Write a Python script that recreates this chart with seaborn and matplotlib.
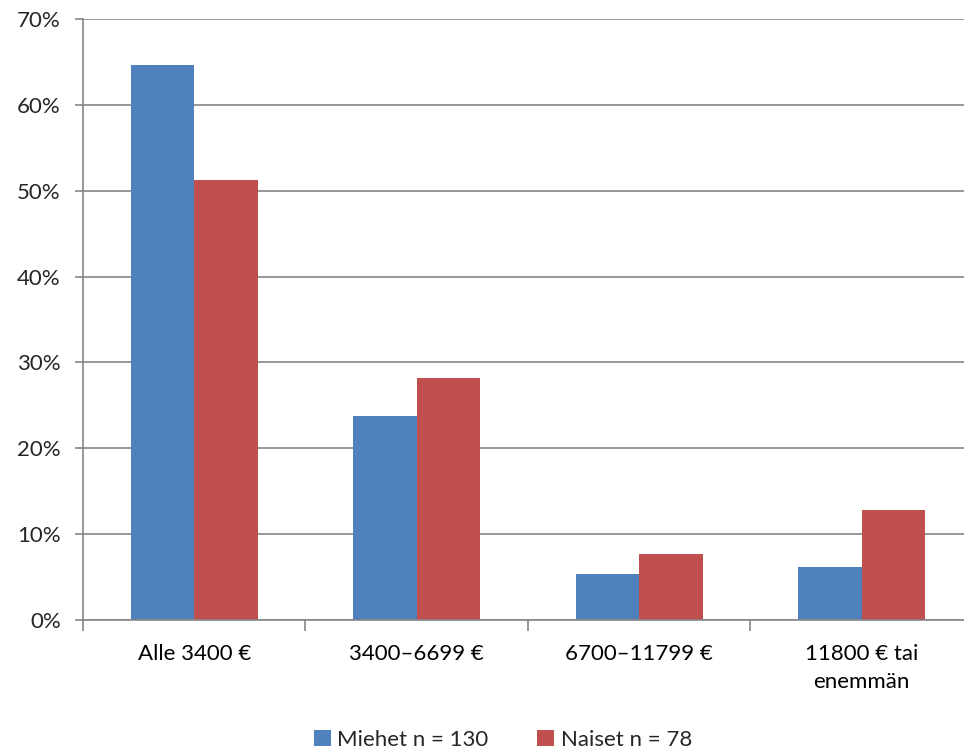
import pandas as pd
import seaborn as sns
import matplotlib.pyplot as plt
from matplotlib.patches import Patch
from matplotlib.ticker import FixedLocator

# data (percent)
categories = ['Alle 3400 €', '3400–6699 €', '6700–11799 €', '11800 € tai\nenemmän']
miehet = [64.6, 23.8, 5.4, 6.2]
naiset = [51.3, 28.2, 7.7, 12.8]
series_names = ['Miehet n = 130', 'Naiset n = 78']
colors = ['#4F81BD', '#C0504D']
yticks = [0, 10, 20, 30, 40, 50, 60, 70]

df = pd.DataFrame({
    'luokka': categories * 2,
    'osuus': miehet + naiset,
    'ryhma': [series_names[0]] * 4 + [series_names[1]] * 4,
})

sns.set_style('white')
plt.rcParams['font.family'] = ['Lato', 'DejaVu Sans']

grid_col = '#868686'
fs = 16

fig = plt.figure(figsize=(9.64, 7.53), dpi=100)
ax = fig.add_axes([83 / 964, 1 - 620 / 753, 1 - 83 / 964, (620 - 19) / 753])

sns.barplot(data=df, x='luokka', y='osuus', hue='ryhma', palette=colors,
            width=0.57, gap=0, saturation=1, edgecolor='none', legend=False, ax=ax)

ax.set_ylim(0, 70)
ax.set_xlim(-0.5, 3.46)
ax.set_yticks(yticks)
ax.set_yticklabels([f'{v}%' for v in yticks], fontsize=fs)
ax.set_xticks(range(len(categories)))
ax.set_xticklabels(categories, fontsize=fs, linespacing=1.55)
ax.yaxis.grid(True, color=grid_col, linewidth=1.2)
ax.set_axisbelow(True)
ax.set_xlabel('')
ax.set_ylabel('')

# category boundary ticks like in the original
ax.xaxis.set_minor_locator(FixedLocator([-0.5, 0.5, 1.5, 2.5]))
ax.tick_params(axis='x', which='major', bottom=False, length=0, pad=17, colors='black')
ax.tick_params(axis='x', which='minor', bottom=True, length=8, width=1.2,
               color=grid_col, direction='out')
ax.tick_params(axis='y', which='major', left=True, length=6, width=1.2, color=grid_col,
               direction='out', pad=10)

for side in ['top', 'right']:
    ax.spines[side].set_visible(False)
for side in ['left', 'bottom']:
    ax.spines[side].set_color(grid_col)
    ax.spines[side].set_linewidth(1.2)

handles = [Patch(facecolor=c, edgecolor='none') for c in colors]
fig.legend(handles, series_names, loc='center', bbox_to_anchor=(503 / 964, 1 - 740 / 753),
           ncol=2, frameon=False, fontsize=fs, handlelength=0.75, handleheight=0.75,
           handletextpad=0.3, columnspacing=2.2, borderpad=0)

fig.savefig('out.png', dpi=100)
